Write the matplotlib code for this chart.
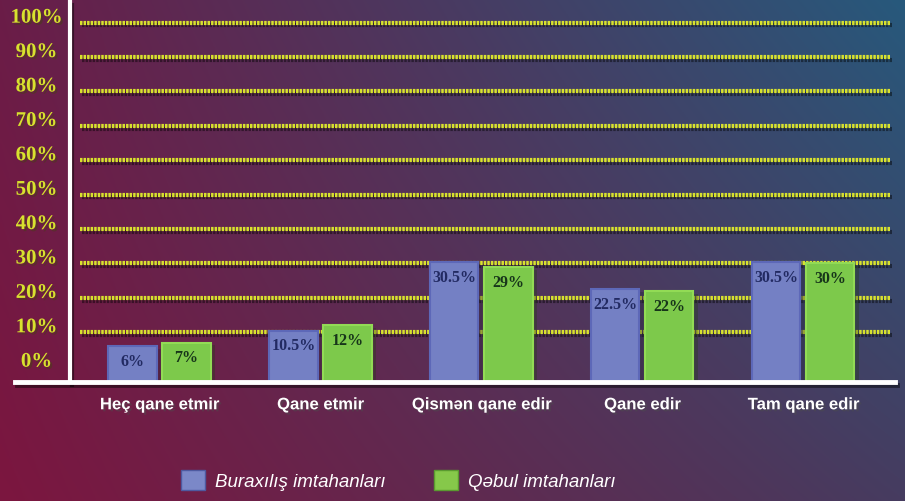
import numpy as np
import matplotlib.pyplot as plt
import matplotlib.patheffects as pe
from matplotlib.patches import Patch

# data
categories = ["Heç qane etmir", "Qane etmir", "Qismən qane edir", "Qane edir", "Tam qane edir"]
buraxilis = [6, 10.5, 30.5, 22.5, 30.5]
qebul = [7, 12, 29, 22, 30]
series_names = ["Buraxılış imtahanları", "Qəbul imtahanları"]
y_ticks = [0, 10, 20, 30, 40, 50, 60, 70, 80, 90, 100]
y_labels = [f"{t}%" for t in y_ticks]

blue = "#7480c4"
green = "#7dc94b"
yellow = "#d8e22e"
ymin, ymax = -4.45, 106

fig = plt.figure(figsize=(9.05, 5.02), dpi=100)

# background gradient (bilinear between corner colours)
def rgb(h):
    h = h.lstrip("#")
    return np.array([int(h[i:i + 2], 16) / 255 for i in (0, 2, 4)])

tl, tr, bl, br = rgb("#6a1d48"), rgb("#27597c"), rgb("#7c163f"), rgb("#463c60")
yy, xx = np.mgrid[0:1:200j, 0:1:400j]
img = (((1 - xx) * (1 - yy))[..., None] * tl + (xx * (1 - yy))[..., None] * tr
       + ((1 - xx) * yy)[..., None] * bl + (xx * yy)[..., None] * br)
bg = fig.add_axes([0, 0, 1, 1])
bg.imshow(img, aspect="auto", extent=[0, 1, 0, 1])
bg.axis("off")

ax = fig.add_axes([70 / 905, 119 / 502, 825 / 905, 380 / 502])
ax.set_facecolor("none")
ax.set_xlim(-0.556, 4.57)
ax.set_ylim(ymin, ymax)

shadow = [pe.SimpleLineShadow(offset=(1.5, -2), alpha=0.45), pe.Normal()]
text_shadow = [pe.withSimplePatchShadow(offset=(1.5, -1.5), alpha=0.45)]

# dotted grid lines
for t in y_ticks[1:]:
    ax.axhline(t, xmin=0.012, xmax=0.994, color=yellow, lw=3,
               ls=(0, (0.6, 0.25)), zorder=1, path_effects=shadow)

# y labels
for t, lab in zip(y_ticks, y_labels):
    ax.text(-0.0406, t + 1.45, lab, transform=ax.get_yaxis_transform(),
            ha="center", va="center", color=yellow, fontsize=15,
            fontfamily="Liberation Serif", fontweight="bold",
            path_effects=text_shadow)

# bars
x = np.arange(len(categories))
bar_shadow = [pe.withSimplePatchShadow(offset=(3, -2), alpha=0.35)]
ax.bar(x - 0.168, np.array(buraxilis) - ymin, 0.30, bottom=ymin, color=blue,
       edgecolor="#5d68b8", linewidth=1.5, zorder=3, path_effects=bar_shadow)
ax.bar(x + 0.168, np.array(qebul) - ymin, 0.30, bottom=ymin, color=green,
       edgecolor="#92db55", linewidth=1.5, zorder=3, path_effects=bar_shadow)

for xi, v in zip(x, buraxilis):
    ax.text(xi - 0.168, v - 4.3, f"{v:g}%", ha="center", va="center",
            fontsize=11.5, fontfamily="Liberation Serif", fontweight="bold",
            color="#222a62", zorder=4)
for xi, v in zip(x, qebul):
    ax.text(xi + 0.168, v - 4.3, f"{v:g}%", ha="center", va="center",
            fontsize=11.5, fontfamily="Liberation Serif", fontweight="bold",
            color="#17351a", zorder=4)

# axes lines
for s in ["top", "right", "bottom"]:
    ax.spines[s].set_visible(False)
ax.spines["left"].set_color("white")
ax.spines["left"].set_linewidth(3)
ax.spines["left"].set_path_effects(shadow)
ax.plot([-0.067, 1.0], [0, 0], transform=ax.transAxes, clip_on=False,
        color="white", lw=3.5, zorder=5, path_effects=shadow)

ax.set_yticks([])
ax.set_xticks(x)
ax.set_xticklabels(categories, fontsize=12, fontfamily="Liberation Sans",
                   fontweight="bold", color="white")
for lbl in ax.get_xticklabels():
    lbl.set_path_effects(text_shadow)
ax.tick_params(axis="x", length=0, pad=11)

# legend
handles = [Patch(facecolor="#7b88c8", edgecolor="#4e5aa0", label=series_names[0]),
           Patch(facecolor="#86c84a", edgecolor="#5a9a30", label=series_names[1])]
leg = fig.legend(handles=handles, loc="center", bbox_to_anchor=(0.44, 0.042),
                 ncol=2, frameon=False, handlelength=1.3, handleheight=1.3,
                 handletextpad=0.5, columnspacing=2.6,
                 prop={"family": "Liberation Sans", "style": "italic", "size": 13.5})
for t in leg.get_texts():
    t.set_color("white")

fig.savefig("out.png", dpi=100)
